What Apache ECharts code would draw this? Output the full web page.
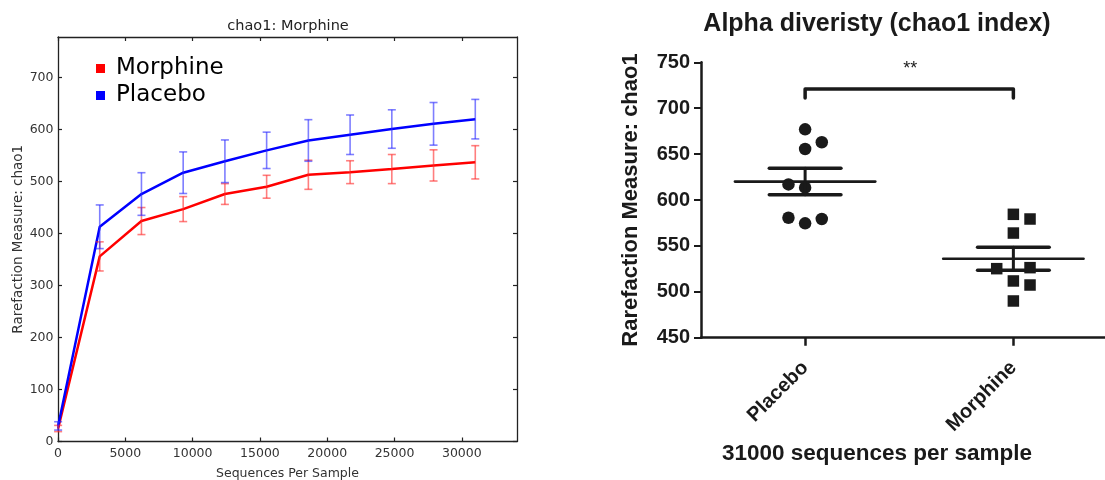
<!DOCTYPE html>
<html><head><meta charset="utf-8">
<script src="https://cdn.jsdelivr.net/npm/echarts@6/dist/echarts.min.js"></script>
<style>html,body{margin:0;padding:0;background:#fff}#c{width:1105px;height:480px}</style>
</head><body><div id="c"></div>
<script>
// ---- Left chart: rarefaction curves ----
const seqs = [10, 3100, 6200, 9300, 12400, 15500, 18600, 21700, 24800, 27900, 31000];
const morphineMean = [25, 356, 424, 447, 476, 490, 513, 518, 524, 531, 537];
const morphineErr  = [6, 28, 26, 24, 20, 22, 28, 22, 28, 30, 32];
const placeboMean  = [30, 413, 476, 517, 539, 560, 579, 590, 601, 611, 620];
const placeboErr   = [8, 42, 41, 40, 41, 35, 40, 38, 37, 41, 38];
const leftXTicks = [0, 5000, 10000, 15000, 20000, 25000, 30000];
const leftYTicks = [0, 100, 200, 300, 400, 500, 600, 700];

// ---- Right chart: chao1 at 31000 sequences ----
const groups = ['Placebo', 'Morphine'];
const placeboValues  = [677, 662.9, 655.6, 617, 613.4, 580.7, 579.3, 574.6];
const placeboColumn  = [0, 1, 0, -1, 0, -1, 1, 0];
const morphineValues = [584.4, 579.3, 564, 526.3, 525.2, 511.8, 507.4, 490];
const morphineColumn = [0, 1, 0, 1, -1, 0, 1, 0];
const rightYTicks = [450, 500, 550, 600, 650, 700, 750];
const significance = '**';

function mean(a){ return a.reduce((s,v)=>s+v,0)/a.length; }
function sem(a){ const m=mean(a); const v=a.reduce((s,x)=>s+(x-m)*(x-m),0)/(a.length-1); return Math.sqrt(v/a.length); }

const DJ = 'DejaVu Sans';
const AR = '"Liberation Sans", Arial, Helvetica, sans-serif';
const INK = '#1a1a1a';
const JIT = 0.08;

function errBars(color){
  return function(params, api){
    const x = api.value(0), m = api.value(1), e = api.value(2);
    const t = api.coord([x, m + e]), b = api.coord([x, m - e]);
    const st = {stroke: color, lineWidth: 1.6};
    return {type:'group', children:[
      {type:'line', shape:{x1:t[0], y1:t[1], x2:b[0], y2:b[1]}, style:st},
      {type:'line', shape:{x1:t[0]-4, y1:t[1], x2:t[0]+4, y2:t[1]}, style:st},
      {type:'line', shape:{x1:b[0]-4, y1:b[1], x2:b[0]+4, y2:b[1]}, style:st}
    ]};
  };
}

const spineLine = {show:true, onZero:false, lineStyle:{color:'#222', width:1.3}};
const innerTick = {show:true, inside:true, length:4, lineStyle:{color:'#222', width:1.2}};
const plain = v => String(v);

const chart = echarts.init(document.getElementById('c'), null, {renderer:'canvas'});
chart.setOption({
  animation:false,
  backgroundColor:'#fff',
  graphic:[
    {type:'text', x:288, y:19, style:{text:'chao1: Morphine', textAlign:'center', font:'14.5px "DejaVu Sans"', fill:'#222'}},
    {type:'text', x:877, y:12, style:{text:'Alpha diveristy (chao1 index)', textAlign:'center', font:'bold 25px "Liberation Sans", Arial', fill:INK}}
  ],
  legend:{
    data:[{name:'Morphine', icon:'rect'}, {name:'Placebo', icon:'rect'}],
    orient:'vertical', left:91, top:52, itemWidth:9, itemHeight:9, itemGap:4,
    selectedMode:false,
    textStyle:{fontFamily:DJ, fontSize:23, color:'#000', padding:[0,0,0,6]}
  },
  grid:[
    {left:58, top:37, width:459, height:404.5, outerBoundsMode:'none', containLabel:false},
    {left:701, top:62.3, width:404, height:275.4, outerBoundsMode:'none', containLabel:false}
  ],
  xAxis:[
    {type:'value', gridIndex:0, min:0, max:34100, position:'bottom',
     axisLine:spineLine, axisTick:Object.assign({customValues:leftXTicks}, innerTick),
     axisLabel:{customValues:leftXTicks, formatter:plain, margin:6, fontFamily:DJ, fontSize:12.5, color:'#333'},
     splitLine:{show:false},
     name:'Sequences Per Sample', nameLocation:'middle', nameGap:26,
     nameTextStyle:{fontFamily:DJ, fontSize:12.5, color:'#333'}},
    {type:'value', gridIndex:0, min:0, max:34100, position:'top',
     axisLine:spineLine, axisTick:Object.assign({customValues:leftXTicks}, innerTick),
     axisLabel:{show:false}, splitLine:{show:false}},
    {type:'value', gridIndex:1, min:0.5, max:2.44, position:'bottom',
     axisLine:{show:true, onZero:false, lineStyle:{color:INK, width:2.5}},
     axisTick:{show:true, customValues:[1,2], length:8, lineStyle:{color:INK, width:2.5}},
     axisLabel:{customValues:[1,2], rotate:45, margin:27, formatter:v=>groups[Math.round(v)-1],
       fontFamily:AR, fontWeight:'bold', fontSize:20, color:INK},
     splitLine:{show:false},
     name:'31000 sequences per sample', nameLocation:'middle', nameGap:99,
     nameTextStyle:{fontFamily:AR, fontWeight:'bold', fontSize:22.5, color:INK, padding:[0,52,0,0]}}
  ],
  yAxis:[
    {type:'value', gridIndex:0, min:0, max:778, position:'left',
     axisLine:spineLine, axisTick:Object.assign({customValues:leftYTicks}, innerTick),
     axisLabel:{customValues:leftYTicks, formatter:plain, margin:4.5, fontFamily:DJ, fontSize:12.5, color:'#333'},
     splitLine:{show:false},
     name:'Rarefaction Measure: chao1', nameLocation:'middle', nameGap:33,
     nameTextStyle:{fontFamily:DJ, fontSize:13.5, color:'#333'}},
    {type:'value', gridIndex:0, min:0, max:778, position:'right',
     axisLine:spineLine, axisTick:Object.assign({customValues:leftYTicks}, innerTick),
     axisLabel:{show:false}, splitLine:{show:false}},
    {type:'value', gridIndex:1, min:450, max:750, interval:50, position:'left',
     axisLine:{show:true, onZero:false, lineStyle:{color:INK, width:2.5}},
     axisTick:{show:true, length:7, lineStyle:{color:INK, width:2}},
     axisLabel:{customValues:rightYTicks, formatter:plain, margin:11, fontFamily:AR, fontWeight:'bold', fontSize:20, color:INK},
     splitLine:{show:false},
     name:'Rarefaction Measure: chao1', nameLocation:'middle', nameGap:59,
     nameTextStyle:{fontFamily:AR, fontWeight:'bold', fontSize:22, color:INK}}
  ],
  series:[
    {name:'Morphine', type:'line', xAxisIndex:0, yAxisIndex:0, symbol:'none', z:3,
     data:seqs.map((s,i)=>[s, morphineMean[i]]),
     itemStyle:{color:'#ff0000'}, lineStyle:{color:'#ff0000', width:2.5}},
    {name:'Placebo', type:'line', xAxisIndex:0, yAxisIndex:0, symbol:'none', z:3,
     data:seqs.map((s,i)=>[s, placeboMean[i]]),
     itemStyle:{color:'#0000ff'}, lineStyle:{color:'#0000ff', width:2.5}},
    {type:'custom', xAxisIndex:0, yAxisIndex:0, z:4, encode:{x:0, y:1},
     data:seqs.map((s,i)=>[s, morphineMean[i], morphineErr[i]]),
     renderItem:errBars('rgba(255,40,40,0.6)')},
    {type:'custom', xAxisIndex:0, yAxisIndex:0, z:4, encode:{x:0, y:1},
     data:seqs.map((s,i)=>[s, placeboMean[i], placeboErr[i]]),
     renderItem:errBars('rgba(40,40,255,0.6)')},

    {type:'scatter', xAxisIndex:2, yAxisIndex:2, symbol:'circle', symbolSize:12.5,
     itemStyle:{color:INK, opacity:1},
     data:placeboValues.map((v,i)=>[1 + placeboColumn[i]*JIT, v])},
    {type:'scatter', xAxisIndex:2, yAxisIndex:2, symbol:'rect', symbolSize:11.5,
     itemStyle:{color:INK, opacity:1},
     data:morphineValues.map((v,i)=>[2 + morphineColumn[i]*JIT, v])},
    {type:'custom', xAxisIndex:2, yAxisIndex:2, z:5, encode:{x:0, y:1},
     data:[[1, mean(placeboValues), sem(placeboValues)], [2, mean(morphineValues), sem(morphineValues)]],
     renderItem:function(params, api){
       const x = api.value(0), m = api.value(1), s = api.value(2), c = api.coord;
       const L = (a,b,w)=>({type:'line', shape:{x1:a[0],y1:a[1],x2:b[0],y2:b[1]}, style:{stroke:INK, lineWidth:w, lineCap:'round'}});
       return {type:'group', children:[
         L(c([x-0.337,m]), c([x+0.337,m]), 2.6),
         L(c([x-0.172,m+s]), c([x+0.172,m+s]), 3.5),
         L(c([x-0.172,m-s]), c([x+0.172,m-s]), 3.5),
         L(c([x,m-s]), c([x,m+s]), 3)
       ]};
     }},
    {type:'custom', xAxisIndex:2, yAxisIndex:2, z:5, encode:{x:0, y:2},
     data:[[1, 2, 721, 711]],
     renderItem:function(params, api){
       const a = api.value(0), b = api.value(1), top = api.value(2), low = api.value(3), c = api.coord;
       const p1 = c([a, low]), p2 = c([a, top]), p3 = c([b, top]), p4 = c([b, low]);
       const mid = c([(a+b)/2, top]);
       return {type:'group', children:[
         {type:'polyline', shape:{points:[p1,p2,p3,p4]}, style:{stroke:INK, lineWidth:3.5, fill:null, lineJoin:'round', lineCap:'round'}},
         {type:'text', x:mid[0]+1, y:mid[1]-29, style:{text:significance, textAlign:'center', textVerticalAlign:'top', font:'18px "Liberation Sans", Arial', fill:INK}}
       ]};
     }}
  ]
});
</script></body></html>
